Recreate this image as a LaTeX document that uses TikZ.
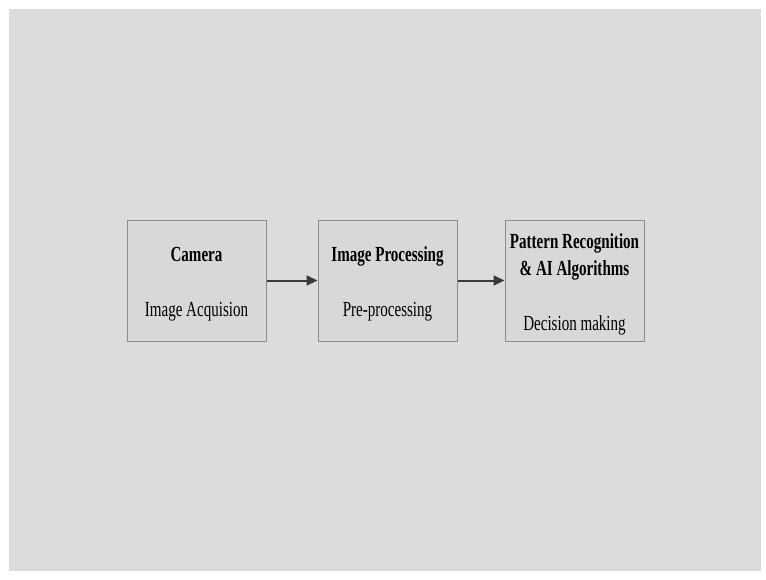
\documentclass[tikz,border=0pt]{standalone}
\usepackage{fontspec}
\setmainfont{Liberation Serif}[FakeStretch=0.7]
\usetikzlibrary{arrows.meta,positioning}
\definecolor{bggray}{RGB}{220,220,220}
\definecolor{boxfill}{RGB}{216,216,216}
\definecolor{boxedge}{RGB}{140,140,140}
\definecolor{arrowgray}{RGB}{58,58,58}
\tikzset{
  stage/.style={draw=boxedge, line width=1pt, fill=boxfill, minimum width=139pt, minimum height=121pt, align=center, inner sep=0pt,
    font=\fontsize{21.5}{27}\selectfont, text height=90pt, text depth=18.4pt},
  line/.style={-{Triangle[length=11pt,width=10pt]}, line width=2pt, draw=arrowgray}
}

\begin{document}
\begin{tikzpicture}[x=1pt,y=-1pt]
  \fill[white] (0,0) rectangle (766,579);
  \fill[bggray] (9,9) rectangle (761,571);

  \node[stage] (camera) at (196.5,280.5) {\textbf{Camera}\\[28pt]Image Acquision};
  \node[stage, right=51pt of camera] (proc) {\textbf{Image Processing}\\[28pt]Pre-processing};
  \node[stage, right=47pt of proc, text height=105pt, text depth=5.4pt] (pattern) {\textbf{Pattern Recognition}\\\textbf{\& AI Algorithms}\\[28pt]Decision making};

  \draw[line] (camera) -- (proc);
  \draw[line] (proc) -- (pattern);
\end{tikzpicture}
\end{document}
